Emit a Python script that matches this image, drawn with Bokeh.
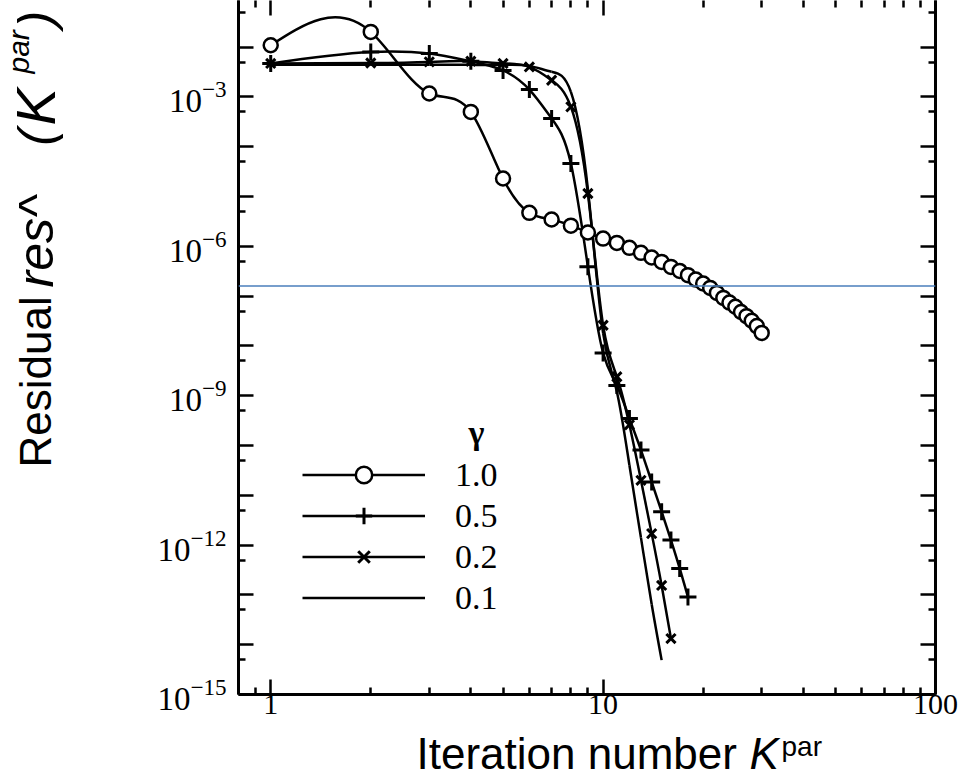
import math
import numpy as np
from bokeh.plotting import figure
from bokeh.layouts import row, column
from bokeh.models import (LogAxis, FixedTicker, Span, Label, Legend, LegendItem,
                          ColumnDataSource, BasicTickFormatter, Range1d)
from bokeh.embed import file_html
from bokeh.resources import INLINE

# ---------------- data ----------------
k_g10 = list(range(1, 31))
res_g10 = [1.09e-2, 2.02e-2, 1.17e-3, 5.0e-4, 2.3e-5, 4.7e-6, 3.45e-6, 2.6e-6, 1.89e-6, 1.43e-6,
           1.17e-6, 9.3e-7, 7.4e-7, 5.95e-7, 4.86e-7, 3.86e-7, 3.2e-7, 2.63e-7, 2.15e-7, 1.79e-7,
           1.46e-7, 1.16e-7, 9.2e-8, 7.4e-8, 6.1e-8, 4.8e-8, 3.95e-8, 3.2e-8, 2.5e-8, 1.82e-8]

k_g05 = list(range(1, 19))
res_g05 = [4.7e-3, 8.0e-3, 7.4e-3, 5.2e-3, 3.4e-3, 1.4e-3, 3.7e-4, 4.6e-5, 3.9e-7, 7.2e-9,
           1.6e-9, 3.5e-10, 8.1e-11, 1.85e-11, 4.7e-12, 1.26e-12, 3.4e-13, 9.1e-14]

k_g02 = list(range(1, 17))
res_g02 = [4.7e-3, 4.8e-3, 5.05e-3, 5.2e-3, 4.7e-3, 4.0e-3, 2.16e-3, 6.3e-4, 1.15e-5, 2.6e-8,
           2.4e-9, 2.6e-10, 2.0e-11, 1.7e-12, 1.55e-13, 1.33e-14]

k_g01 = list(range(1, 16))
res_g01 = [4.4e-3, 4.4e-3, 4.4e-3, 4.4e-3, 4.4e-3, 4.2e-3, 3.2e-3, 1.26e-3, 1.4e-5, 1.8e-8,
           1.2e-9, 4.0e-11, 1.4e-12, 6.5e-14, 4.9e-15]

gamma_labels = ["1.0", "0.5", "0.2", "0.1"]
threshold = 1.6e-7

x_major = [1, 10, 100]
x_minor = [0.8, 0.9, 2, 3, 4, 5, 6, 7, 8, 9, 20, 30, 40, 50, 60, 70, 80, 90]
y_exponents = list(range(-15, 0))
y_label_exponents = [-15, -12, -9, -6, -3]

# ---------------- helpers ----------------
def smooth_segments(xs, ys):
    """Natural cubic spline in log-log space, expressed as Bezier segments."""
    u = np.log10(np.asarray(xs, float))
    v = np.log10(np.asarray(ys, float))
    n = len(u)
    h = np.diff(u)
    A = np.zeros((n, n))
    r = np.zeros(n)
    A[0, 0] = 1.0
    A[-1, -1] = 1.0
    for i in range(1, n - 1):
        A[i, i - 1] = h[i - 1]
        A[i, i] = 2 * (h[i - 1] + h[i])
        A[i, i + 1] = h[i]
        r[i] = 6 * ((v[i + 1] - v[i]) / h[i] - (v[i] - v[i - 1]) / h[i - 1])
    M = np.linalg.solve(A, r)
    m = np.zeros(n)
    for i in range(n - 1):
        m[i] = (v[i + 1] - v[i]) / h[i] - h[i] * (2 * M[i] + M[i + 1]) / 6
    m[-1] = (v[-1] - v[-2]) / h[-1] + h[-1] * (M[-2] + 2 * M[-1]) / 6
    x0, x1, y0, y1 = u[:-1], u[1:], v[:-1], v[1:]
    cx0 = x0 + h / 3
    cy0 = y0 + m[:-1] * h / 3
    cx1 = x1 - h / 3
    cy1 = y1 - m[1:] * h / 3
    return ColumnDataSource(dict(x0=10 ** x0, y0=10 ** y0, x1=10 ** x1, y1=10 ** y1,
                                 cx0=10 ** cx0, cy0=10 ** cy0, cx1=10 ** cx1, cy1=10 ** cy1))

# ---------------- layout sizes ----------------
W_LEFT = 70          # strip for the rotated y title
W_MAIN = 890
H_MAIN = 728
H_BOTTOM = 50        # strip for the x title
H_ALL = H_MAIN + H_BOTTOM
B_LEFT, B_RIGHT, B_BOTTOM = 168, 25, 34
PX_PER_DEC = 49.8
FRAME_H = H_MAIN - B_BOTTOM
y_top = 10 ** (-15 + FRAME_H / PX_PER_DEC)

p = figure(width=W_MAIN, height=H_MAIN, x_axis_type="log", y_axis_type="log",
           x_range=Range1d(0.8, 100), y_range=Range1d(1e-15, y_top),
           output_backend="svg", toolbar_location=None,
           min_border_left=B_LEFT, min_border_right=B_RIGHT, min_border_top=0,
           min_border_bottom=B_BOTTOM)
p.outline_line_color = None
p.grid.visible = False
p.background_fill_color = "white"

xt = FixedTicker(ticks=x_major, minor_ticks=x_minor)
yt = FixedTicker(ticks=[float(f"1e{e}") for e in y_exponents],
                 minor_ticks=[float(f"5e{e}") for e in y_exponents])
overrides = {float(f"1e{e}"): " " for e in y_exponents if e not in y_label_exponents}

def style_axis(ax, show_labels=True, show_line=True, label_size=33):
    ax.axis_line_width = 3
    ax.axis_line_color = "black" if show_line else None
    ax.major_tick_line_width = 2.5
    ax.minor_tick_line_width = 2.5
    ax.major_tick_in = 15
    ax.major_tick_out = 0
    ax.minor_tick_in = 7
    ax.minor_tick_out = 0
    ax.major_label_text_font = "Liberation Serif"
    ax.major_label_text_color = "black"
    if show_labels:
        ax.major_label_text_font_size = f"{label_size}px"
    else:
        ax.major_label_text_font_size = "1px"
        ax.major_label_text_alpha = 0
        ax.major_label_standoff = 0

xa = p.xaxis[0]
xa.ticker = xt
xa.formatter = BasicTickFormatter()
style_axis(xa, label_size=30)
xa.major_label_standoff = 0

ya = p.yaxis[0]
ya.ticker = yt
ya.major_label_overrides = overrides
style_axis(ya)
ya.major_label_standoff = 12

top_ax = LogAxis(ticker=xt, formatter=BasicTickFormatter())
style_axis(top_ax, show_labels=False, show_line=False)
p.add_layout(top_ax, "above")

right_ax = LogAxis(ticker=yt, formatter=BasicTickFormatter())
style_axis(right_ax, show_labels=False)
p.add_layout(right_ax, "right")

# ---------------- series ----------------
series = [
    (k_g10, res_g10, dict(marker="circle", size=14, line_width=2.5, fill_color="white")),
    (k_g05, res_g05, dict(marker="cross", size=17, line_width=3, fill_color=None)),
    (k_g02, res_g02, dict(marker="x", size=13, line_width=3, fill_color=None)),
    (k_g01, res_g01, None),
]

curve_renderers = []
for xs, ys, mk in series:
    src = smooth_segments(xs, ys)
    r = p.bezier(x0="x0", y0="y0", x1="x1", y1="y1", cx0="cx0", cy0="cy0", cx1="cx1", cy1="cy1",
                 source=src, line_color="black", line_width=2.5)
    curve_renderers.append(r)

marker_renderers = []
for xs, ys, mk in series:
    if mk is None:
        marker_renderers.append(None)
        continue
    r = p.scatter(x=xs, y=ys, line_color="black", **mk)
    marker_renderers.append(r)

p.add_layout(Span(location=threshold, dimension="width", line_color="#4a7ebb", line_width=1.5))

# ---------------- legend ----------------
items = []
for lab, cr, mr in zip(gamma_labels, curve_renderers, marker_renderers):
    rs = [cr] if mr is None else [cr, mr]
    items.append(LegendItem(label=lab, renderers=rs))
legend = Legend(items=items, location=(64, 76), glyph_width=123, glyph_height=41,
                label_height=41, spacing=0, padding=0, margin=0, label_standoff=30,
                label_text_font="Liberation Serif", label_text_font_size="34px",
                label_text_color="black",
                border_line_color=None, background_fill_alpha=0)
p.add_layout(legend, "center")

p.add_layout(Label(x=238, y=262, x_units="screen", y_units="screen", text="γ",
                   text_font="Liberation Serif", text_font_style="bold", text_font_size="34px",
                   text_color="black", text_align="center", text_baseline="middle"))

# ---------------- title strips ----------------
def strip(w, h, bl=0, br=0):
    f = figure(width=w, height=h, x_range=Range1d(0, 1), y_range=Range1d(0, 1),
               x_axis_location=None, y_axis_location=None,
               min_border_left=bl, min_border_right=br, min_border_top=0, min_border_bottom=0,
               output_backend="svg", toolbar_location=None)
    f.outline_line_color = None
    f.grid.visible = False
    return f

TS = "Liberation Sans"

def piece(fig, x, y, text, size, italic=False, angle=0.0):
    fig.add_layout(Label(x=x, y=y, x_units="screen", y_units="screen", text=text,
                         text_font=TS, text_font_style="italic" if italic else "normal",
                         text_font_size=f"{size}px", text_baseline="middle",
                         text_align="left", angle=angle, text_color="black"))

# x title (strip below the chart; its frame lines up with the chart frame)
q = strip(W_MAIN, H_BOTTOM, B_LEFT, B_RIGHT)
piece(q, 178, 25, "Iteration number", 44)
piece(q, 511, 25, "K", 44, italic=True)
piece(q, 543, 32, "par", 28)

# y title (strip at the left, rotated)
s = strip(W_LEFT, H_ALL)
ang = math.pi / 2
piece(s, 35, H_ALL - 467, "Residual", 44, angle=ang)
piece(s, 35, H_ALL - 287, "res^", 50, italic=True, angle=ang)
piece(s, 35, H_ALL - 145, "(", 50, italic=True, angle=ang)
piece(s, 35, H_ALL - 125, "K", 56, italic=True, angle=ang)
piece(s, 18, H_ALL - 73, "par", 30, italic=True, angle=ang)
piece(s, 35, H_ALL - 27, ")", 50, italic=True, angle=ang)

layout = row(s, column(p, q))
open("out.html", "w").write(file_html(layout, INLINE))
